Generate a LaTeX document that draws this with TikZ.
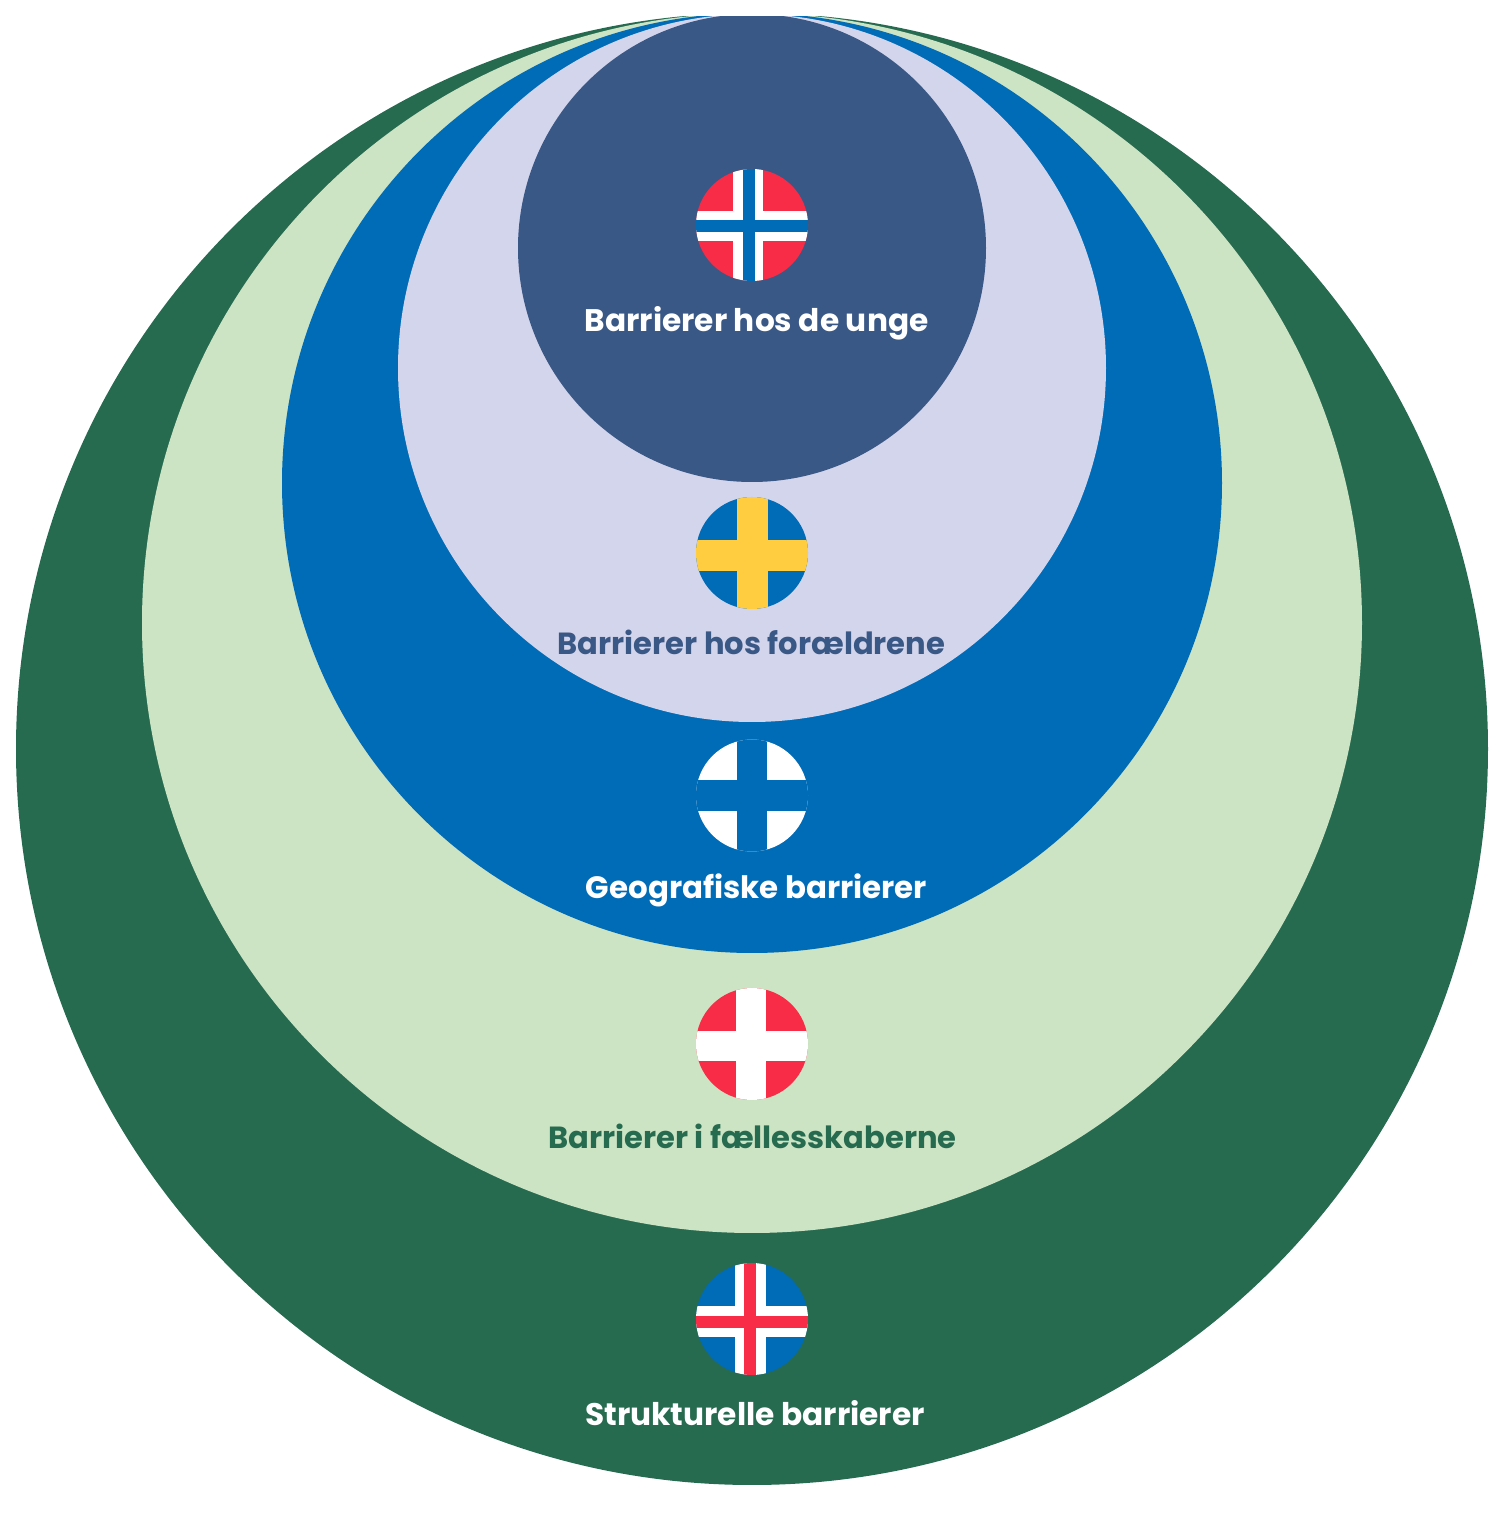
\documentclass[tikz,border=0pt]{standalone}
\usepackage{fontspec}
\setmainfont{Poppins}

\definecolor{darkgreen}{HTML}{266B50}
\definecolor{lightgreen}{HTML}{CDE4C4}
\definecolor{flagblue}{HTML}{006BB6}
\definecolor{lavender}{HTML}{D3D5EC}
\definecolor{navy}{HTML}{3A5885}
\definecolor{flagred}{HTML}{F82C46}
\definecolor{flagyellow}{HTML}{FFCD3F}

\tikzset{
  barlabel/.style={anchor=base,font=\fontsize{#1}{10pt}\selectfont\bfseries,inner sep=0pt},
  barlabel/.default=8.7pt,
}

\begin{document}
\begin{tikzpicture}
\useasboundingbox (0,0) rectangle (15.05,15.20);
%\draw[step=1cm,gray,very thin] (0,0) grid (15,15); %background grid

% rings, cut off at the top
\begin{scope}
\clip (0,0) rectangle (15.05,15.03);
\fill[darkgreen]  (7.52,7.71)  circle (7.36);
\fill[lightgreen] (7.52,8.97)  circle (6.10);
\fill[flagblue]   (7.52,10.37) circle (4.70);
\fill[lavender]   (7.52,11.52) circle (3.54);
\fill[navy]       (7.52,12.72) circle (2.34);
\end{scope}

% norway
\begin{scope}
\clip (7.52,12.95) circle (0.56);
\fill[flagred] (6.9,12.3) rectangle (8.2,13.6);
\fill[white] (7.33,12.3) rectangle (7.63,13.6);
\fill[white] (6.9,12.79) rectangle (8.2,13.09);
\fill[flagblue] (7.43,12.3) rectangle (7.55,13.6);
\fill[flagblue] (6.9,12.88) rectangle (8.2,13.00);
\end{scope}

% sweden
\begin{scope}
\clip (7.52,9.67) circle (0.56);
\fill[flagblue] (6.9,9.0) rectangle (8.2,10.3);
\fill[flagyellow] (7.37,9.0) rectangle (7.68,10.3);
\fill[flagyellow] (6.9,9.49) rectangle (8.2,9.80);
\end{scope}

% finland
\begin{scope}
\clip (7.52,7.245) circle (0.56);
\fill[white] (6.9,6.6) rectangle (8.2,7.9);
\fill[flagblue] (7.37,6.6) rectangle (7.67,7.9);
\fill[flagblue] (6.9,7.09) rectangle (8.2,7.40);
\end{scope}

% denmark
\begin{scope}
\clip (7.52,4.76) circle (0.56);
\fill[flagred] (6.9,4.1) rectangle (8.2,5.4);
\fill[white] (7.355,4.1) rectangle (7.66,5.4);
\fill[white] (6.9,4.585) rectangle (8.2,4.89);
\end{scope}

% iceland
\begin{scope}
\clip (7.52,2.01) circle (0.56);
\fill[flagblue] (6.9,1.4) rectangle (8.2,2.7);
\fill[white] (7.35,1.4) rectangle (7.66,2.7);
\fill[white] (6.9,1.83) rectangle (8.2,2.14);
\fill[flagred] (7.44,1.4) rectangle (7.56,2.7);
\fill[flagred] (6.9,1.92) rectangle (8.2,2.04);
\end{scope}

\node[barlabel=8.88pt,text=white]  (unge)      at (7.565,11.88) {Barrierer hos de unge};
\node[barlabel,text=navy]          (foraeldre) at (7.515,8.655) {Barrierer hos forældrene};
\node[barlabel=8.78pt,text=white]  (geografi)  at (7.565,6.21) {Geografiske barrierer};
\node[barlabel,text=darkgreen]     (faelles)   at (7.525,3.71) {Barrierer i fællesskaberne};
\node[barlabel=8.88pt,text=white]  (struktur)  at (7.55,0.95) {Strukturelle barrierer};

\end{tikzpicture}
\end{document}
